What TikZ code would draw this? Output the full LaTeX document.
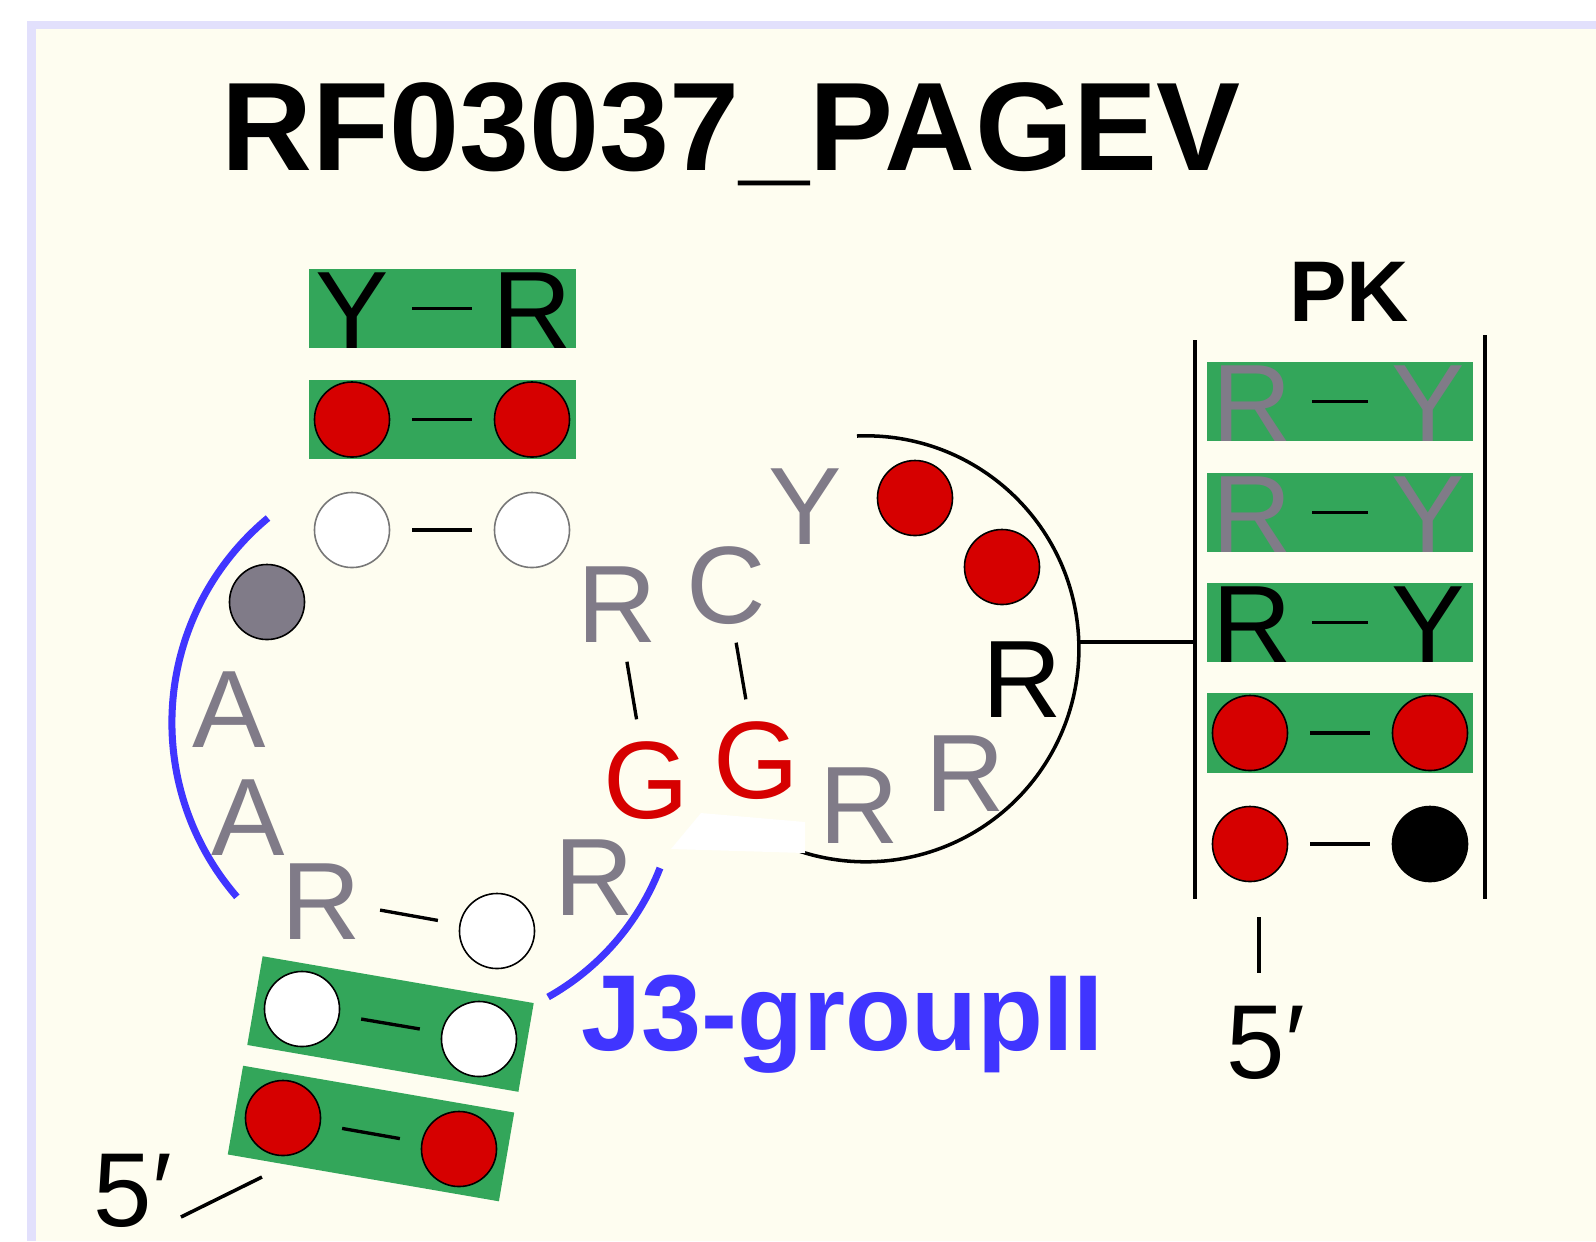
\documentclass[tikz,border=0pt]{standalone}
\usepackage{fontspec}
\setmainfont{Liberation Sans}
\usepackage{xcolor}
\usepackage{tikz}
\usetikzlibrary{positioning}

\definecolor{paper}{HTML}{FEFDF0}
\definecolor{rim}{HTML}{E2E0FC}
\definecolor{pairgreen}{HTML}{33A65A}
\definecolor{ntred}{HTML}{D60000}
\definecolor{ntgray}{HTML}{807B88}
\definecolor{rimgray}{HTML}{777777}
\definecolor{jblue}{HTML}{4035FF}

\begin{document}
\begin{tikzpicture}[x=0.01cm, y=-0.01cm,
  nt/.style={inner sep=0pt, text height=0.79cm, text depth=0pt, font=\fontsize{31.3}{31.3}\selectfont},
  ntg/.style={nt, text=ntgray},
  ntr/.style={nt, text=ntred},
  base/.style={circle, draw=black, line width=0.45pt, minimum size=0.75cm, inner sep=0pt},
  pairbox/.style={fill=pairgreen, minimum width=2.66cm, minimum height=0.79cm, inner sep=0pt},
  tiltbox/.style={pairbox, minimum width=2.75cm, minimum height=0.9cm, rotate=-9.8},
  bp/.style={line width=0.95pt, shorten <=0.6cm, shorten >=0.6cm},
  stem/.style={line width=1pt},
  jarc/.style={draw=jblue, line width=2pt},
  prime/.style={anchor=base west, inner sep=0pt, font=\fontsize{29.9}{30}\selectfont}]
  % page and frame
  \fill[white] (0,0) rectangle (1596,1241);
  \fill[rim] (27,21) rectangle (1596,1241);
  \fill[paper] (36,29) rectangle (1596,1241);
  \useasboundingbox (0,0) rectangle (1596,1241);

  \node[anchor=base west, inner sep=0pt, font=\bfseries\fontsize{35.8}{36}\selectfont] (title) at (221,170) {RF03037\_PAGEV};

  % stem boxes
  \node[pairbox] (sbox1) at (442.5,308.5) {};
  \node[pairbox] (sbox2) at (442.5,419.5) {};
  \node[tiltbox] (sbox3) at (390.5,1024) {};
  \node[tiltbox] (sbox4) at (371,1133.5) {};
  \foreach \y [count=\i] in {401.5,512.5,622.5,733} {\node[pairbox] (pkbox\i) at (1340,\y) {};}

  % interior loop and J3 arcs
  \coordinate (jl) at (268,518);
  \draw[jarc] (jl) arc[start angle=-129.7, end angle=-220.9, radius=266];
  \coordinate (jr) at (660,868);
  \draw[jarc] (jr) arc[start angle=21.2, end angle=60.7, radius=252.7];

  % pseudoknot loop
  \coordinate (lp0) at (857,436);
  \draw[stem] (lp0) arc[start angle=-92.4, end angle=110, radius=213];
  \fill[white] (701,813) -- (805,822) -- (805,853) -- (671,849) -- cycle;
  \coordinate (lpR) at (1079,642);
  \coordinate (pkL) at (1195,642);
  \draw[stem] (lpR) -- (pkL);

  % left stem
  \node[nt] (s1l) at (352,308.5) {Y};
  \node[nt] (s1r) at (532,308.5) {R};
  \node[base, fill=ntred] (s2l) at (352,419.5) {};
  \node[base, fill=ntred] (s2r) at (532,419.5) {};
  \node[base, fill=white, draw=rimgray] (s3l) at (352,530) {};
  \node[base, fill=white, draw=rimgray] (s3r) at (532,530) {};
  \node[base, fill=ntgray] (g1) at (267,602) {};
  \node[ntg] (a1) at (229,707.5) {A};
  \node[ntg] (a2) at (248,815.5) {A};
  \node[ntg] (r1) at (321,899.5) {R};
  \node[base, fill=white] (s4r) at (497,931) {};
  \node[ntg] (r2) at (594,875.5) {R};
  \node[base, fill=white] (s5l) at (302,1009) {};
  \node[base, fill=white] (s5r) at (479,1039) {};
  \node[base, fill=ntred] (s6l) at (283,1118) {};
  \node[base, fill=ntred] (s6r) at (459,1149) {};

  % loop bases
  \node[ntg] (r3) at (617,602.5) {R};
  \node[ntg] (c1) at (726,583.5) {C};
  \node[ntg] (y1) at (805.5,504.5) {Y};
  \node[base, fill=ntred] (l1) at (915,498) {};
  \node[base, fill=ntred] (l2) at (1002,567) {};
  \node[nt] (r4) at (1022,677.5) {R};
  \node[ntg] (r5) at (965,771.5) {R};
  \node[ntg] (r6) at (859,803.5) {R};
  \node[ntr] (gg2) at (756,758.5) {G};
  \node[ntr] (gg1) at (646.5,778.5) {G};

  % PK helix
  \node[anchor=base, inner sep=0pt, font=\bfseries\fontsize{24.5}{25}\selectfont] (pk) at (1349,321) {PK};
  \coordinate (barL0) at (1195,340);
  \coordinate (barL1) at (1195,899);
  \coordinate (barR0) at (1485,335);
  \coordinate (barR1) at (1485,899);
  \draw[stem] (barL0) -- (barL1);
  \draw[stem] (barR0) -- (barR1);
  \foreach \y/\c [count=\i] in {401.5/ntgray, 512.5/ntgray, 622.5/black} {
    \node[nt, text=\c] (pkl\i) at (1252,\y) {R};
    \node[nt, text=\c] (pkr\i) at (1428,\y) {Y};
  }
  \node[base, fill=ntred] (pkl4) at (1250,733) {};
  \node[base, fill=ntred] (pkr4) at (1430,733) {};
  \node[base, fill=ntred] (pkl5) at (1250,844) {};
  \node[base, fill=black] (pkr5) at (1430,844) {};

  \foreach \a/\b in {s1l/s1r, s2l/s2r, s3l/s3r, r1/s4r, s5l/s5r, s6l/s6r,
                     r3/gg1, c1/gg2, pkl1/pkr1, pkl2/pkr2, pkl3/pkr3, pkl4/pkr4, pkl5/pkr5}
    \draw[bp] (\a.center) -- (\b.center);

  % 5' ends
  \coordinate (t5a) at (1259,917);
  \coordinate (t5b) at (1259,973);
  \draw[stem] (t5a) -- (t5b);
  \node[prime] (fiveR) at (1226,1078) {5′};
  \coordinate (t6a) at (262,1177);
  \coordinate (t6b) at (181,1217);
  \draw[stem] (t6a) -- (t6b);
  \node[prime] (fiveL) at (93,1226) {5′};

  \node[anchor=base west, inner sep=0pt, text=jblue, font=\bfseries\fontsize{30.7}{31}\selectfont] (j3) at (581,1050) {J3-groupII};
\end{tikzpicture}
\end{document}
